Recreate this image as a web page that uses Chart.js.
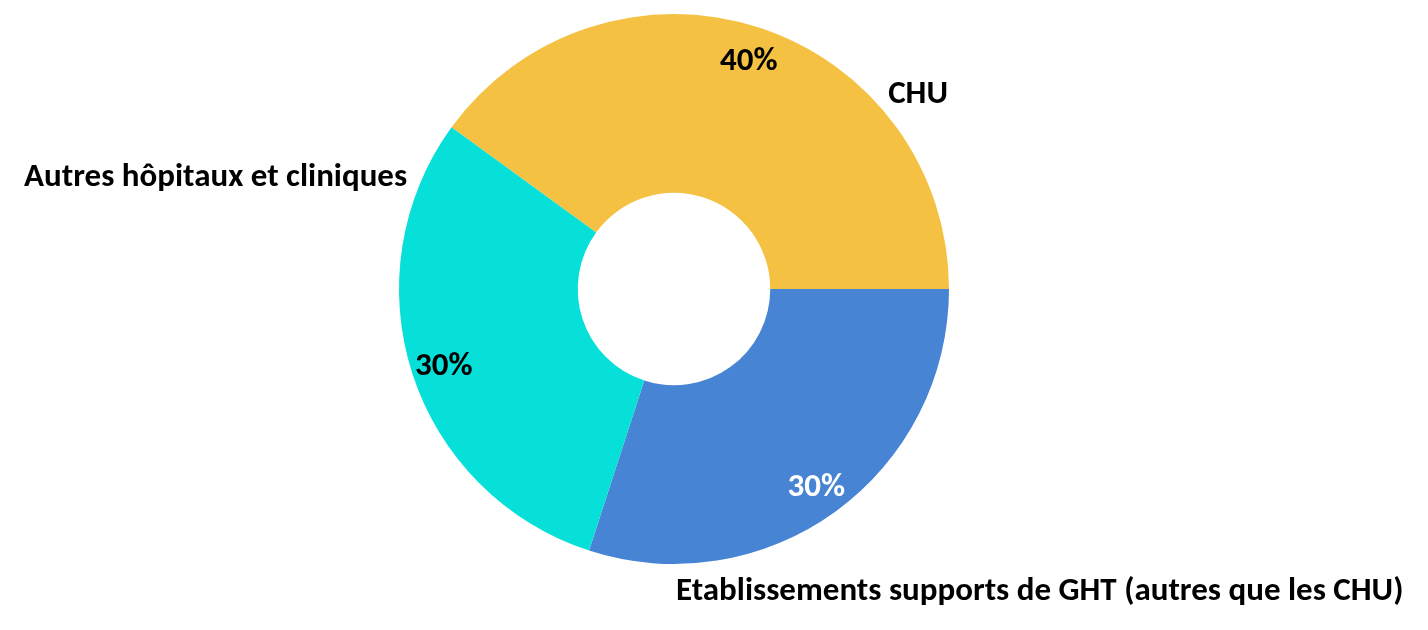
<!DOCTYPE html>
<html>
<head>
<meta charset="utf-8">
<script src="https://cdn.jsdelivr.net/npm/chart.js@4/dist/chart.umd.min.js"></script>
<style>
  html, body { margin: 0; padding: 0; background: #fff; }
  #wrap { width: 1428px; height: 630px; }
</style>
</head>
<body>
<div id="wrap"><canvas id="chart"></canvas></div>
<script>
// parts of the donut, clockwise from the CHU slice
const categories = ["CHU", "Etablissements supports de GHT (autres que les CHU)", "Autres hôpitaux et cliniques"];
const shares = [40, 30, 30];
const sliceColors = ["#F4C142", "#4784D3", "#07E0D9"];
const pctColors = ["#000", "#fff", "#000"];

const FONT = "Carlito, Calibri, Lato, sans-serif";

// draws % labels inside the ring and category names around it
const donutLabels = {
    id: "donutLabels",
    afterDatasetsDraw(chart, args, opts) {
        const ctx = chart.ctx;
        const meta = chart.getDatasetMeta(0);
        ctx.save();
        ctx.textBaseline = "middle";
        ctx.font = "bold 33px " + FONT;
        meta.data.forEach((arc, i) => {
            const p = arc.getProps(["x", "y", "startAngle", "endAngle", "outerRadius"], true);
            const mid = (p.startAngle + p.endAngle) / 2;
            const r = p.outerRadius * opts.pctRadius;
            ctx.fillStyle = pctColors[i];
            ctx.textAlign = "center";
            ctx.fillText(shares[i] + "%", p.x + Math.cos(mid) * r, p.y + Math.sin(mid) * r + opts.dy);

            const lp = opts.names[i];
            const a = lp.angle * Math.PI / 180;
            const rr = p.outerRadius * lp.r;
            ctx.fillStyle = "#000";
            ctx.textAlign = lp.align;
            ctx.fillText(categories[i], p.x + Math.cos(a) * rr, p.y + Math.sin(a) * rr + opts.dy);
        });
        ctx.restore();
    }
};

new Chart(document.getElementById("chart"), {
    type: "doughnut",
    data: {
        labels: categories,
        datasets: [{
            data: shares,
            backgroundColor: sliceColors,
            borderWidth: 0
        }]
    },
    options: {
        responsive: true,
        maintainAspectRatio: false,
        animation: false,
        rotation: -54,
        cutout: "35%",
        layout: { padding: { left: 399, right: 479, top: 14, bottom: 66 } },
        plugins: {
            legend: { display: false },
            tooltip: { enabled: false },
            donutLabels: {
                pctRadius: 0.88,
                dy: 3,
                names: [
                    { angle: -39, r: 1.142, align: "center" },
                    { angle: 89.6, r: 1.09, align: "left" },
                    { angle: -156.9, r: 1.055, align: "right" }
                ]
            }
        }
    },
    plugins: [donutLabels]
});
</script>
</body>
</html>
